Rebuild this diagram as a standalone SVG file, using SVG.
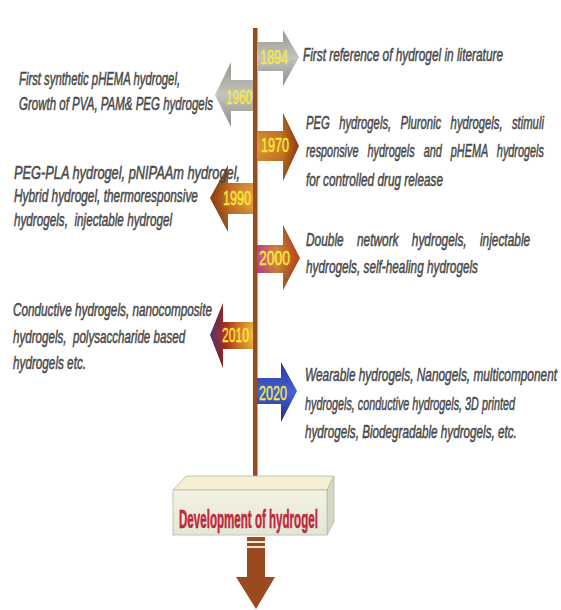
<svg xmlns="http://www.w3.org/2000/svg" width="561" height="610" viewBox="0 0 561 610">
<defs>
<style>
.t{font-family:"Liberation Sans",Arial,sans-serif;font-style:italic;font-size:18.5px;fill:#4a4a4a;stroke:#4a4a4a;stroke-width:0.55}
.yr{font-family:"Liberation Sans",Arial,sans-serif;font-size:21px;fill:#f4ec3c;stroke:#f4ec3c;stroke-width:0.4}
.box{font-family:"Liberation Sans",Arial,sans-serif;font-weight:bold;font-size:25px;fill:#c8283e;stroke:#a01e30;stroke-width:0.5}
</style>
<linearGradient id="gGray" x1="0" y1="0" x2="0" y2="1">
<stop offset="0" stop-color="#95958f"/><stop offset="0.5" stop-color="#c4c4bd"/><stop offset="1" stop-color="#8c8c86"/>
</linearGradient>
<linearGradient id="g1970" x1="0" y1="0" x2="1" y2="0">
<stop offset="0" stop-color="#e29a38"/><stop offset="0.6" stop-color="#d27a25"/><stop offset="1" stop-color="#8c3a0e"/>
</linearGradient>
<linearGradient id="g1990" x1="1" y1="0" x2="0" y2="0">
<stop offset="0" stop-color="#eea63e"/><stop offset="0.5" stop-color="#d67a28"/><stop offset="1" stop-color="#8a3a10"/>
</linearGradient>
<linearGradient id="g2000" x1="0" y1="0" x2="1" y2="0">
<stop offset="0" stop-color="#c8449a"/><stop offset="0.45" stop-color="#e0903a"/><stop offset="1" stop-color="#b8401a"/>
</linearGradient>
<linearGradient id="g2010" x1="1" y1="0" x2="0" y2="0">
<stop offset="0" stop-color="#f2c040"/><stop offset="0.35" stop-color="#e07828"/><stop offset="0.65" stop-color="#b83020"/><stop offset="1" stop-color="#4a3478"/>
</linearGradient>
<linearGradient id="g2020" x1="0" y1="0" x2="0" y2="1">
<stop offset="0" stop-color="#24349e"/><stop offset="0.5" stop-color="#4660d2"/><stop offset="1" stop-color="#1e2a8c"/>
</linearGradient>
<linearGradient id="shade" x1="0" y1="0" x2="0" y2="1">
<stop offset="0" stop-color="#000" stop-opacity="0.25"/><stop offset="0.5" stop-color="#000" stop-opacity="0"/><stop offset="1" stop-color="#000" stop-opacity="0.3"/>
</linearGradient>
<linearGradient id="gFront" x1="0" y1="0" x2="0" y2="1">
<stop offset="0" stop-color="#f4f2e2"/><stop offset="1" stop-color="#e4e6d4"/>
</linearGradient>
</defs>

<g id="connectors">
<rect x="253" y="28" width="4.5" height="452" fill="#9b4a1f"/>
</g>

<g id="a1894">
<path d="M257,42 H283 V30 L299,57 L283,86 V71 H257 Z" fill="url(#gGray)"/>
<text class="yr" transform="translate(260,64) scale(0.6,1)" textLength="46.7" lengthAdjust="spacingAndGlyphs">1894</text>
<text class="t" transform="translate(303,61) scale(0.64,1)" textLength="312.5" lengthAdjust="spacingAndGlyphs">First reference of hydrogel in literature</text>
</g>

<g id="a1960">
<path d="M253,80 H231 V62 L215,95 L231,127 V111 H253 Z" fill="url(#gGray)"/>
<text class="yr" transform="translate(226,104) scale(0.557,1)" textLength="46.7" lengthAdjust="spacingAndGlyphs">1960</text>
<text class="t" transform="translate(19,85) scale(0.61,1)" textLength="264" lengthAdjust="spacingAndGlyphs">First synthetic pHEMA hydrogel,</text>
<text class="t" transform="translate(19,110) scale(0.617,1)" textLength="314.4" lengthAdjust="spacingAndGlyphs">Growth of PVA, PAM&amp; PEG hydrogels</text>
</g>

<g id="a1970">
<path d="M257,131 H283 V113 L299,146 L283,181 V161 H257 Z" fill="url(#g1970)"/>
<path d="M257,131 H283 V113 L299,146 L283,181 V161 H257 Z" fill="url(#shade)"/>
<text class="yr" transform="translate(261,152) scale(0.6,1)" textLength="46.7" lengthAdjust="spacingAndGlyphs">1970</text>
<text class="t" xml:space="preserve" transform="translate(306,129) scale(0.61,1)" textLength="390" lengthAdjust="spacingAndGlyphs">PEG   hydrogels,   Pluronic   hydrogels,   stimuli</text>
<text class="t" xml:space="preserve" transform="translate(306,157) scale(0.586,1)" textLength="406" lengthAdjust="spacingAndGlyphs">responsive   hydrogels   and   pHEMA   hydrogels</text>
<text class="t" transform="translate(306,186) scale(0.637,1)" textLength="215" lengthAdjust="spacingAndGlyphs">for controlled drug release</text>
</g>

<g id="a1990">
<path d="M253,183 H228 V165 L210,198 L228,232 V214 H253 Z" fill="url(#g1990)"/>
<path d="M253,183 H228 V165 L210,198 L228,232 V214 H253 Z" fill="url(#shade)"/>
<text class="yr" transform="translate(223,205) scale(0.6,1)" textLength="46.7" lengthAdjust="spacingAndGlyphs">1990</text>
<text class="t" transform="translate(14,179) scale(0.687,1)" textLength="329" lengthAdjust="spacingAndGlyphs">PEG-PLA hydrogel, pNIPAAm hydrogel,</text>
<text class="t" transform="translate(14,202) scale(0.642,1)" textLength="286.5" lengthAdjust="spacingAndGlyphs">Hybrid hydrogel, thermoresponsive</text>
<text class="t" xml:space="preserve" transform="translate(14,226) scale(0.632,1)" textLength="250" lengthAdjust="spacingAndGlyphs">hydrogels,  injectable hydrogel</text>
</g>

<g id="a2000">
<path d="M257,245 H283 V225 L300,258 L283,290 V273 H257 Z" fill="url(#g2000)"/>
<path d="M257,245 H283 V225 L300,258 L283,290 V273 H257 Z" fill="url(#shade)"/>
<text class="yr" transform="translate(259,265) scale(0.664,1)" textLength="46.7" lengthAdjust="spacingAndGlyphs">2000</text>
<text class="t" xml:space="preserve" transform="translate(306,246) scale(0.643,1)" textLength="348.6" lengthAdjust="spacingAndGlyphs">Double    network    hydrogels,    injectable</text>
<text class="t" transform="translate(306,273) scale(0.636,1)" textLength="270.4" lengthAdjust="spacingAndGlyphs">hydrogels, self-healing hydrogels</text>
</g>

<g id="a2010">
<path d="M253,322 H223 V303 L210,335 L223,368 V349 H253 Z" fill="url(#g2010)"/>
<path d="M253,322 H223 V303 L210,335 L223,368 V349 H253 Z" fill="url(#shade)"/>
<text class="yr" transform="translate(222,342) scale(0.578,1)" textLength="46.7" lengthAdjust="spacingAndGlyphs">2010</text>
<text class="t" transform="translate(13,316) scale(0.633,1)" textLength="314.4" lengthAdjust="spacingAndGlyphs">Conductive hydrogels, nanocomposite</text>
<text class="t" xml:space="preserve" transform="translate(13,343) scale(0.627,1)" textLength="274.5" lengthAdjust="spacingAndGlyphs">hydrogels,  polysaccharide based</text>
<text class="t" transform="translate(13,369) scale(0.634,1)" textLength="115.2" lengthAdjust="spacingAndGlyphs">hydrogels etc.</text>
</g>

<g id="a2020">
<path d="M257,378 H281 V362 L297,391 L281,422 V404 H257 Z" fill="url(#g2020)"/>
<text class="yr" transform="translate(259,400) scale(0.6,1)" textLength="46.7" lengthAdjust="spacingAndGlyphs">2020</text>
<text class="t" transform="translate(305,381) scale(0.64,1)" textLength="393.8" lengthAdjust="spacingAndGlyphs">Wearable hydrogels, Nanogels, multicomponent</text>
<text class="t" transform="translate(305,410) scale(0.583,1)" textLength="360" lengthAdjust="spacingAndGlyphs">hydrogels, conductive hydrogels, 3D printed</text>
<text class="t" transform="translate(305,438) scale(0.632,1)" textLength="335.2" lengthAdjust="spacingAndGlyphs">hydrogels, Biodegradable hydrogels, etc.</text>
</g>

<g id="development">
<polygon points="173,490 186,476 334,476 327,490" fill="#f6f0d2" stroke="#b8b8a8" stroke-width="0.8"/>
<polygon points="327,490 334,476 334,522 327,535" fill="#d4d8c2" stroke="#b8b8a8" stroke-width="0.8"/>
<rect x="173" y="490" width="154" height="45" fill="url(#gFront)" stroke="#b8b8a8" stroke-width="0.8"/>
<text class="box" transform="translate(179,528) scale(0.463,1)" textLength="300" lengthAdjust="spacingAndGlyphs">Development of hydrogel</text>
</g>

<g id="output-arrow">
<rect x="247" y="537" width="18" height="42" fill="#9b4a1f"/>
<rect x="247" y="541" width="18" height="2" fill="#f2e8d4"/>
<rect x="247" y="546" width="18" height="2" fill="#f2e8d4"/>
<polygon points="236,577 275,577 256,609" fill="#9b4a1f"/>
</g>
</svg>
